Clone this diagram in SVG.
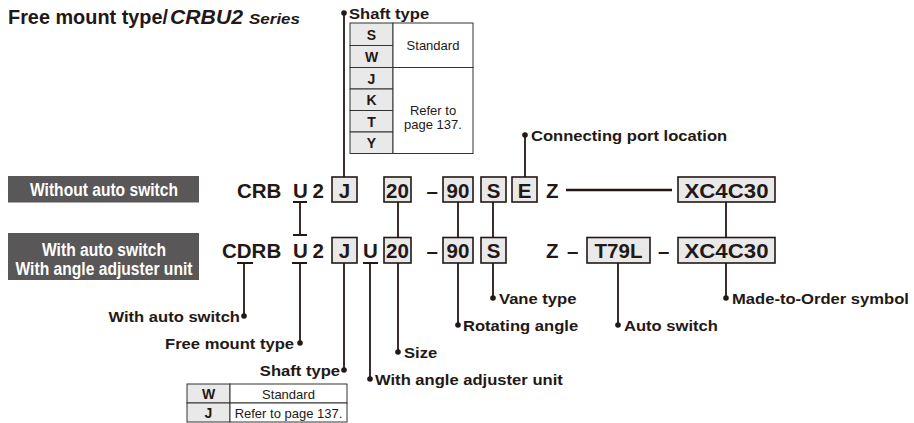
<svg xmlns="http://www.w3.org/2000/svg" width="914" height="423" viewBox="0 0 914 423">
<style>
.t{font-family:"Liberation Sans",Arial,sans-serif;fill:#231815}
.b{font-weight:bold}
.code{font-family:"Liberation Sans",Arial,sans-serif;font-weight:bold;font-size:20.5px;fill:#231815}
.mid{text-anchor:middle}
.end{text-anchor:end}
.lbl{font-family:"Liberation Sans",Arial,sans-serif;font-weight:bold;font-size:15.5px;fill:#231815}
.box{fill:#e9e9e9;stroke:#231815;stroke-width:1.6}
.cell{fill:#fff;stroke:#333;stroke-width:1}
.key{fill:#e9e9e9;stroke:#333;stroke-width:1}
.ct{font-family:"Liberation Sans",Arial,sans-serif;font-size:13px;fill:#231815}
.kt{font-family:"Liberation Sans",Arial,sans-serif;font-size:14px;font-weight:bold;fill:#231815;text-anchor:middle}
.dark{fill:#595757}
.wt{font-family:"Liberation Sans",Arial,sans-serif;font-weight:bold;font-size:18px;fill:#fff;text-anchor:middle}
.ln{stroke:#231815;stroke-width:1.8;fill:none}
.dot{fill:#231815}
</style>

<g id="title">
<text class="t b" x="8" y="23.5" font-size="19.5" textLength="160" lengthAdjust="spacingAndGlyphs">Free mount type/</text>
<text class="t b" x="170" y="23.5" font-size="20.5" font-style="italic" textLength="73" lengthAdjust="spacingAndGlyphs">CRBU2</text>
<text class="t b" x="249" y="23.5" font-size="14" font-style="italic" textLength="51" lengthAdjust="spacingAndGlyphs">Series</text>
</g>

<g id="shaft-type-table-top">
<text class="lbl" transform="translate(349 18.5) scale(1.07 1)">Shaft type</text>
<rect class="key" x="350" y="23" width="43" height="22.5"/>
<rect class="key" x="350" y="45.5" width="43" height="22"/>
<rect class="key" x="350" y="67.5" width="43" height="21.5"/>
<rect class="key" x="350" y="89" width="43" height="21.5"/>
<rect class="key" x="350" y="110.5" width="43" height="21.5"/>
<rect class="key" x="350" y="132" width="43" height="21.5"/>
<rect class="cell" x="393" y="23" width="80" height="44.5"/>
<rect class="cell" x="393" y="67.5" width="80" height="86"/>
<text class="kt" x="371.5" y="39.5">S</text>
<text class="kt" x="371.5" y="61.5">W</text>
<text class="kt" x="371.5" y="83.5">J</text>
<text class="kt" x="371.5" y="105">K</text>
<text class="kt" x="371.5" y="126.5">T</text>
<text class="kt" x="371.5" y="148">Y</text>
<text class="ct mid" x="433" y="50">Standard</text>
<text class="ct mid" x="433" y="115">Refer to</text>
<text class="ct mid" x="433" y="129">page 137.</text>
</g>

<g id="label-without">
<rect class="dark" x="8" y="176" width="191" height="26.5"/>
<text class="wt" x="104" y="196" textLength="148" lengthAdjust="spacingAndGlyphs">Without auto switch</text>
</g>
<g id="label-with">
<rect class="dark" x="8" y="233" width="191" height="47"/>
<text class="wt" x="104" y="255.5" textLength="124" lengthAdjust="spacingAndGlyphs">With auto switch</text>
<text class="wt" x="104" y="275" textLength="177" lengthAdjust="spacingAndGlyphs">With angle adjuster unit</text>
</g>

<g id="row1">
<text class="code" x="237" y="197.5">CRB</text>
<text class="code" x="293" y="197.5">U</text>
<text class="code" x="312.5" y="197.5">2</text>
<rect class="box" x="332" y="177" width="25" height="25"/>
<text class="code mid" x="344.5" y="197.5">J</text>
<rect class="box" x="384" y="177" width="27" height="25"/>
<text class="code mid" x="397.5" y="197.5">20</text>
<text class="code" x="426.5" y="197.5">–</text>
<rect class="box" x="443" y="177" width="30" height="25"/>
<text class="code mid" x="458" y="197.5">90</text>
<rect class="box" x="481" y="177" width="25" height="25"/>
<text class="code mid" x="493.5" y="197.5">S</text>
<rect class="box" x="512" y="177" width="25" height="25"/>
<text class="code mid" x="524.5" y="197.5">E</text>
<text class="code" x="546" y="197.5">Z</text>
<rect class="box" x="678" y="177" width="97" height="25"/>
<text class="code mid" x="726.5" y="197.5" textLength="84" lengthAdjust="spacingAndGlyphs">XC4C30</text>
</g>

<g id="row2">
<text class="code" x="222" y="257.5">CDRB</text>
<text class="code" x="293" y="257.5">U</text>
<text class="code" x="312.5" y="257.5">2</text>
<rect class="box" x="332" y="237.5" width="25" height="25.5"/>
<text class="code mid" x="344.5" y="257.5">J</text>
<text class="code" x="363" y="257.5">U</text>
<rect class="box" x="384" y="237.5" width="27" height="25.5"/>
<text class="code mid" x="397.5" y="257.5">20</text>
<text class="code" x="426.5" y="257.5">–</text>
<rect class="box" x="443" y="237.5" width="30" height="25.5"/>
<text class="code mid" x="458" y="257.5">90</text>
<rect class="box" x="481" y="237.5" width="25" height="25.5"/>
<text class="code mid" x="493.5" y="257.5">S</text>
<text class="code" x="546" y="257.5">Z</text>
<text class="code" x="567" y="257.5">–</text>
<rect class="box" x="587" y="237.5" width="63" height="25.5"/>
<text class="code mid" x="618.5" y="257.5">T79L</text>
<text class="code" x="658" y="257.5">–</text>
<rect class="box" x="678" y="237.5" width="97" height="25.5"/>
<text class="code mid" x="726.5" y="257.5" textLength="84" lengthAdjust="spacingAndGlyphs">XC4C30</text>
</g>

<g id="connectors">
<path class="ln" d="M344 13V177 M525 135V177"/>
<line x1="566" y1="190" x2="672" y2="190" stroke="#231815" stroke-width="2.6"/>
<path class="ln" d="M300 202V235 M293 202H307 M293 235H307"/>
<path class="ln" d="M398 202V237.5 M458 202V237.5 M493 202V237.5 M726 202V237.5"/>
<path class="ln" d="M237 263H253 M244 263V316 M292 263H307 M300 263V343 M344 263V370 M363 263H378 M370 263V379 M398 263V352 M458 263V325 M493 263V298 M618 263V325 M726 263V298"/>
<g class="dot">
<circle cx="344" cy="13" r="2.8"/>
<circle cx="525" cy="135" r="2.8"/>
<circle cx="244" cy="316" r="2.8"/>
<circle cx="300" cy="343" r="2.8"/>
<circle cx="344" cy="370" r="2.8"/>
<circle cx="370" cy="379" r="2.8"/>
<circle cx="398" cy="352" r="2.8"/>
<circle cx="458" cy="325" r="2.8"/>
<circle cx="493" cy="298" r="2.8"/>
<circle cx="618" cy="325" r="2.8"/>
<circle cx="726" cy="298" r="2.8"/>
</g>
</g>

<g id="labels">
<text class="lbl" transform="translate(531 140.5) scale(1.07 1)">Connecting port location</text>
<text class="lbl end" transform="translate(240 321.5) scale(1.07 1)">With auto switch</text>
<text class="lbl end" transform="translate(294 348.5) scale(1.07 1)">Free mount type</text>
<text class="lbl end" transform="translate(340 375.5) scale(1.07 1)">Shaft type</text>
<text class="lbl" transform="translate(375 384.5) scale(1.07 1)">With angle adjuster unit</text>
<text class="lbl" transform="translate(404 357.5) scale(1.07 1)">Size</text>
<text class="lbl" transform="translate(463 330.5) scale(1.07 1)">Rotating angle</text>
<text class="lbl" transform="translate(499 303.5) scale(1.07 1)">Vane type</text>
<text class="lbl" transform="translate(624 330.5) scale(1.07 1)">Auto switch</text>
<text class="lbl" transform="translate(732 303.5) scale(1.07 1)">Made-to-Order symbol</text>
</g>

<g id="shaft-type-table-bottom">
<rect class="key" x="187" y="384" width="43" height="19"/>
<rect class="key" x="187" y="403" width="43" height="19"/>
<rect class="cell" x="230" y="384" width="117" height="19"/>
<rect class="cell" x="230" y="403" width="117" height="19"/>
<text class="kt" x="208.5" y="398.5">W</text>
<text class="kt" x="208.5" y="417.5">J</text>
<text class="ct mid" x="288.5" y="398.5">Standard</text>
<text class="ct mid" x="288.5" y="417.5">Refer to page 137.</text>
</g>
</svg>
